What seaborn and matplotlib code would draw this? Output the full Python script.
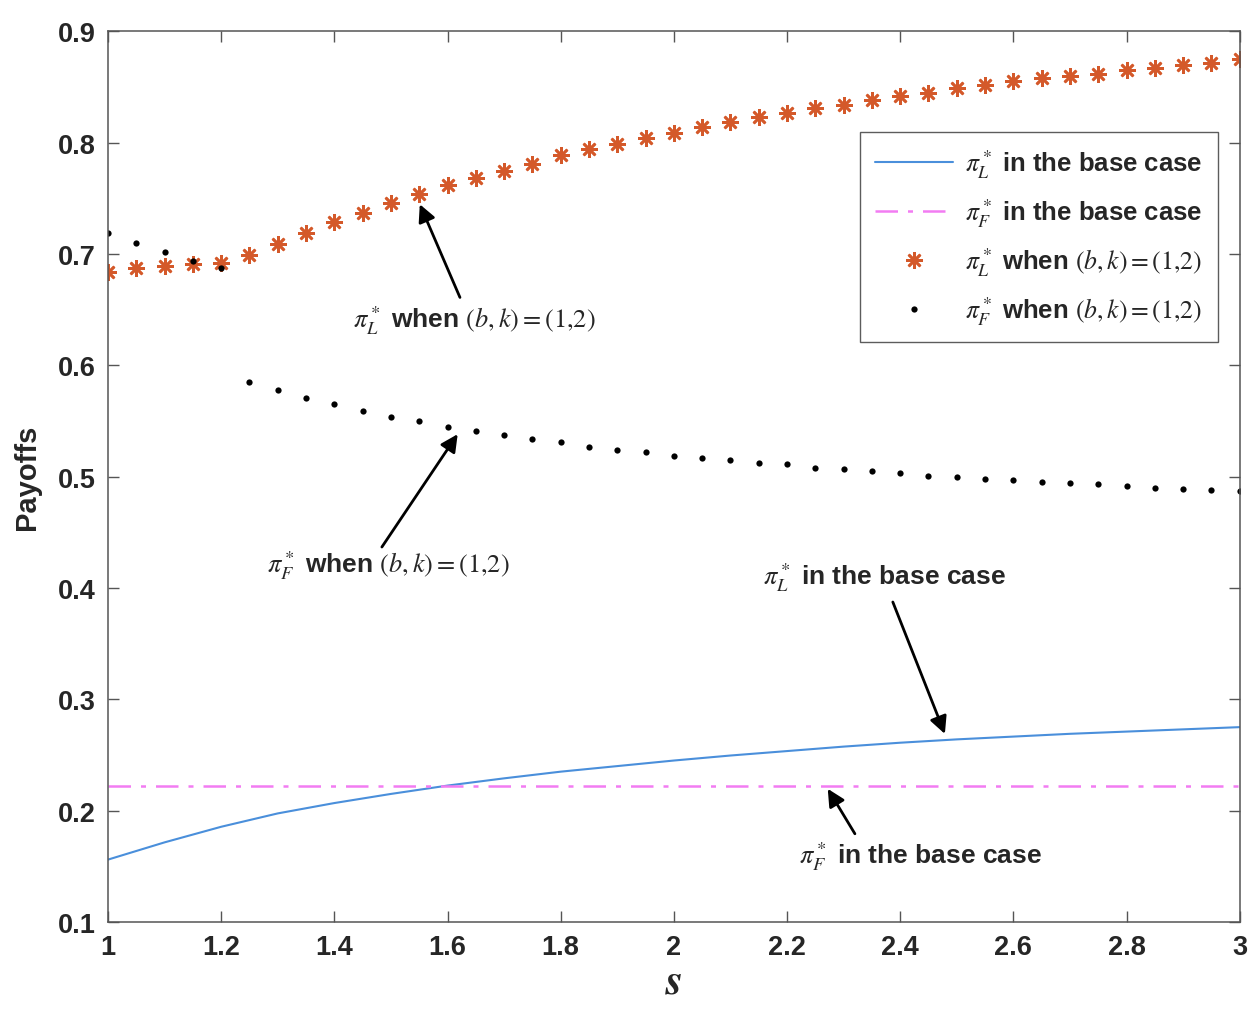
import matplotlib
matplotlib.use('Agg')
import matplotlib.pyplot as plt
import seaborn as sns

sns.set_style('ticks')
plt.rcParams['font.family'] = ['Liberation Sans', 'DejaVu Sans']
plt.rcParams['mathtext.fontset'] = 'stix'

# base case
s_base = [1.0, 1.1, 1.2, 1.3, 1.4, 1.5, 1.6, 1.7, 1.8, 1.9, 2.0,
          2.1, 2.2, 2.3, 2.4, 2.5, 2.6, 2.7, 2.8, 2.9, 3.0]
piL_base = [0.156, 0.1715, 0.1855, 0.1975, 0.2068, 0.2150, 0.2225, 0.229, 0.235, 0.240, 0.245,
            0.2495, 0.2535, 0.2575, 0.261, 0.264, 0.2665, 0.269, 0.271, 0.273, 0.275]
s_flat = [1.0, 3.0]
piF_base = [0.222, 0.222]

# (b,k) = (1,2)
s_bk = [1.0, 1.05, 1.1, 1.15, 1.2, 1.25, 1.3, 1.35, 1.4, 1.45, 1.5, 1.55, 1.6, 1.65,
        1.7, 1.75, 1.8, 1.85, 1.9, 1.95, 2.0, 2.05, 2.1, 2.15, 2.2, 2.25, 2.3, 2.35,
        2.4, 2.45, 2.5, 2.55, 2.6, 2.65, 2.7, 2.75, 2.8, 2.85, 2.9, 2.95, 3.0]
piL_bk = [0.684, 0.687, 0.689, 0.691, 0.692, 0.699, 0.709, 0.719, 0.729, 0.737, 0.746,
          0.754, 0.762, 0.768, 0.775, 0.781, 0.789, 0.794, 0.799, 0.804, 0.809, 0.814,
          0.819, 0.823, 0.827, 0.831, 0.834, 0.838, 0.842, 0.845, 0.849, 0.852, 0.855,
          0.858, 0.860, 0.862, 0.865, 0.867, 0.870, 0.872, 0.875]
piF_bk = [0.719, 0.710, 0.702, 0.694, 0.687, 0.585, 0.578, 0.571, 0.565, 0.559, 0.554,
          0.550, 0.545, 0.541, 0.537, 0.534, 0.531, 0.527, 0.524, 0.522, 0.519, 0.517,
          0.515, 0.5125, 0.511, 0.508, 0.507, 0.505, 0.503, 0.501, 0.500, 0.498, 0.497,
          0.4955, 0.494, 0.493, 0.4916, 0.490, 0.489, 0.488, 0.487]

xticks = [1, 1.2, 1.4, 1.6, 1.8, 2, 2.2, 2.4, 2.6, 2.8, 3]
xtick_labels = ['1', '1.2', '1.4', '1.6', '1.8', '2', '2.2', '2.4', '2.6', '2.8', '3']
yticks = [0.1, 0.2, 0.3, 0.4, 0.5, 0.6, 0.7, 0.8, 0.9]

lab_L_base = r'$\pi_L^*$ in the base case'
lab_F_base = r'$\pi_F^*$ in the base case'
lab_L_bk = r'$\pi_L^*$ when $(b,k)=(1{,}2)$'
lab_F_bk = r'$\pi_F^*$ when $(b,k)=(1{,}2)$'

fig = plt.figure(figsize=(12.56, 10.12), dpi=100)
ax = fig.add_axes([0.086, 0.088, 0.901, 0.880])

sns.lineplot(x=s_base, y=piL_base, ax=ax, color='#4A8FDB', lw=1.5, label=lab_L_base)
sns.lineplot(x=s_flat, y=piF_base, ax=ax, color='#F27CF2', lw=1.8, ls=(0, (9, 4, 2, 4)),
             label=lab_F_base)
sns.lineplot(x=s_bk, y=piL_bk, ax=ax, color='#D4592A', ls='', marker=(8, 2, 0),
             markersize=12, markeredgewidth=1.9, markeredgecolor='#D4592A', label=lab_L_bk)
sns.lineplot(x=s_bk, y=piF_bk, ax=ax, color='black', ls='', marker='o',
             markersize=4.5, markeredgewidth=0, markerfacecolor='black', label=lab_F_bk)

ax.set_xlim(1, 3)
ax.set_ylim(0.1, 0.9)
ax.set_xticks(xticks)
ax.set_xticklabels(xtick_labels)
ax.set_yticks(yticks)
ax.set_yticklabels([f'{v:.1f}' for v in yticks])
ax.tick_params(direction='in', length=8, width=1, color='#555555', top=True, right=True,
               labelsize=19.5, pad=9)
for lab in ax.get_xticklabels() + ax.get_yticklabels():
    lab.set_fontweight('bold')
for sp in ax.spines.values():
    sp.set_visible(True)
    sp.set_color('#555555')
    sp.set_linewidth(1.1)

ax.set_xlabel(r'$\mathbfit{s}$', fontsize=32, labelpad=0)
ax.set_ylabel('Payoffs', fontsize=21, fontweight='bold', labelpad=12)

leg = ax.legend(loc='upper right', bbox_to_anchor=(0.981, 0.887), borderaxespad=0,
                prop={'weight': 'bold', 'size': 18.5}, frameon=True, fancybox=False,
                edgecolor='#333333', handlelength=3.0, borderpad=0.6, labelspacing=0.62,
                handletextpad=0.5)
leg.get_frame().set_linewidth(1.0)

txt = dict(fontsize=19, fontweight='bold', ha='center', va='center')
arrow = dict(arrowstyle='-|>', color='black', lw=2, mutation_scale=26, shrinkA=0, shrinkB=0)
ax.annotate('', xy=(1.551, 0.7447), xytext=(1.622, 0.661), arrowprops=arrow)
ax.text(1.648, 0.641, lab_L_bk, **txt)
ax.annotate('', xy=(1.618, 0.5382), xytext=(1.484, 0.4368), arrowprops=arrow)
ax.text(1.495, 0.4207, lab_F_bk, **txt)
ax.annotate('', xy=(2.479, 0.2689), xytext=(2.387, 0.3874), arrowprops=arrow)
ax.text(2.373, 0.410, lab_L_base, **txt)
ax.annotate('', xy=(2.272, 0.2196), xytext=(2.320, 0.1792), arrowprops=arrow)
ax.text(2.435, 0.160, lab_F_base, **txt)

fig.savefig('out.png', dpi=100)
